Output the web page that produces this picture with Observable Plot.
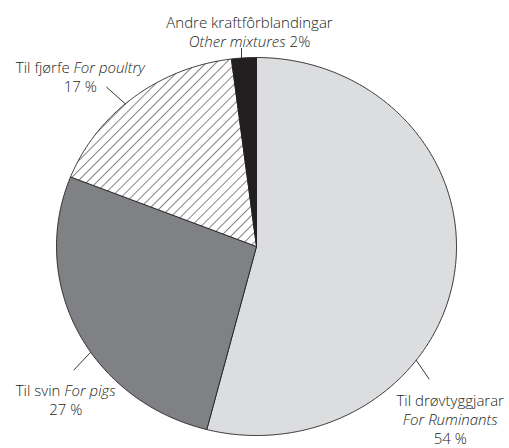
<!DOCTYPE html>
<html>
<head>
<meta charset="utf-8">
<script src="https://cdn.jsdelivr.net/npm/d3@7"></script>
<script src="https://cdn.jsdelivr.net/npm/@observablehq/plot@0.6"></script>
<style>
  html, body { margin: 0; padding: 0; background: #fff; }
  #chart svg { display: block; }
</style>
</head>
<body>
<div id="chart"></div>
<script>
// ---- Data ----
const categoriesNo = ["Til drøvtyggjarar", "Til svin", "Til fjørfe", "Andre kraftfôrblandingar"];
const categoriesEn = ["For Ruminants", "For pigs", "For poultry", "Other mixtures"];
const shares = [54, 27, 17, 2];
const shareLabels = ["54 %", "27 %", "17 %", "2%"];

// ---- Styling / layout (kept apart from the data) ----
const sliceFills = ["#dcdddf", "#808184", "url(#hatch)", "#231f20"];
const labelFormats = ["stack3", "inline2", "inline2", "other2"];
// leader angle (deg, clockwise from top), leader vector (px), label anchor vs. leader end (px)
const labelAngles = [127, 236, 319, 355.7];
const leaderVec = [[13, 19], [-17, 18], [-19, -17], [0, -10]];
const labelOffset = [[21, 65], [-8, 45], [-26, 5], [8, -1]];

const RX = 200, RY = 189, CX = 256, CY = 246;
const W = 509, H = 448;

// ---- Build slice polygons from the shares ----
const pie = d3.pie().sort(null).value(d => d)(shares);
const slicePts = [];
pie.forEach((p, i) => {
  const cat = categoriesNo[i];
  slicePts.push({cat, fill: sliceFills[i], x: 0, y: 0});
  const n = Math.max(2, Math.ceil((p.endAngle - p.startAngle) / (Math.PI / 360)));
  for (let k = 0; k <= n; k++) {
    const a = p.startAngle + (p.endAngle - p.startAngle) * k / n;
    slicePts.push({cat, fill: sliceFills[i], x: Math.sin(a), y: Math.cos(a)});
  }
  slicePts.push({cat, fill: sliceFills[i], x: 0, y: 0});
});

// ---- Labels & leaders ----
const px2x = dx => dx / RX, px2y = dy => -dy / RY;
const leaders = [], labels = [];
shares.forEach((v, i) => {
  const a = labelAngles[i] * Math.PI / 180;
  const x1 = Math.sin(a), y1 = Math.cos(a);
  const x2 = x1 + px2x(leaderVec[i][0]), y2 = y1 + px2y(leaderVec[i][1]);
  leaders.push({x1, y1, x2, y2});
  let text;
  const no = categoriesNo[i], en = categoriesEn[i], s = shareLabels[i];
  if (labelFormats[i] === "stack3") text = `${no}\n*${en}*\n${s}`;
  else if (labelFormats[i] === "inline2") text = `${no} *${en}*\n${s}`;
  else text = `${no}\n*${en}* ${s}`;
  labels.push({text, x: x2 + px2x(labelOffset[i][0]), y: y2 + px2y(labelOffset[i][1])});
});

// pattern definitions for the hatched slice
function hatchDefs() {
  const defs = d3.create("svg:defs");
  const pat = defs.append("pattern")
    .attr("id", "hatch")
    .attr("patternUnits", "userSpaceOnUse")
    .attr("width", 7).attr("height", 7)
    .attr("patternTransform", "rotate(45)");
  pat.append("rect").attr("width", 7).attr("height", 7).attr("fill", "#fff");
  pat.append("line").attr("x1", 0).attr("y1", 0).attr("x2", 0).attr("y2", 7)
    .attr("stroke", "#231f20").attr("stroke-width", 1.1);
  return defs.node();
}

const chart = Plot.plot({
  width: W,
  height: H,
  margin: 0,
  style: {background: "#fff", fontFamily: "'Open Sans', sans-serif", color: "#231f20"},
  x: {domain: [-1, 1], range: [CX - RX, CX + RX], axis: null},
  y: {domain: [-1, 1], range: [CY + RY, CY - RY], axis: null},
  color: {type: "identity"},
  marks: [
    hatchDefs,
    Plot.line(slicePts, {
      x: "x", y: "y", z: "cat", fill: "fill",
      stroke: "#231f20", strokeWidth: 0.9, strokeLinejoin: "round", curve: "linear"
    }),
    Plot.link(leaders, {x1: "x1", y1: "y1", x2: "x2", y2: "y2", stroke: "#231f20", strokeWidth: 0.9}),
    Plot.text(labels, {
      x: "x", y: "y", text: "text",
      textAnchor: "middle", lineAnchor: "bottom", lineHeight: 1.28,
      fontSize: 15, fontWeight: 300, fill: "#231f20"
    })
  ]
});

// turn *...* segments into italic tspans (still real text)
function italicize(node) {
  const s = node.textContent;
  if (!s.includes("*")) return;
  node.textContent = "";
  s.split("*").forEach((part, i) => {
    if (!part) return;
    const t = document.createElementNS("http://www.w3.org/2000/svg", "tspan");
    if (i % 2) t.setAttribute("font-style", "italic");
    t.textContent = part;
    node.appendChild(t);
  });
}
chart.querySelectorAll("text").forEach(t => {
  const spans = t.querySelectorAll("tspan");
  if (spans.length) spans.forEach(italicize);
  else italicize(t);
});

document.getElementById("chart").appendChild(chart);
</script>
</body>
</html>
